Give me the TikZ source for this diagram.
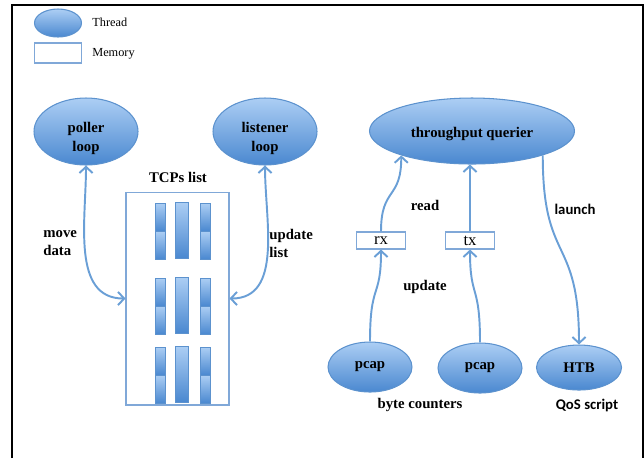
\documentclass[tikz,border=0pt]{standalone}
\usepackage{fontspec}
\setmainfont{Liberation Serif}
\newfontfamily\calibri{Carlito}
\usepackage{xcolor}
\usepackage{tikz}
\usetikzlibrary{arrows.meta,positioning,shapes}

\definecolor{threadtop}{RGB}{172,206,244}
\definecolor{threadbot}{RGB}{74,136,208}
\definecolor{threadline}{RGB}{92,146,206}
\definecolor{flowblue}{RGB}{106,159,214}
\definecolor{memline}{RGB}{128,168,216}

\newcommand\lowered[2]{\raisebox{-#1}[\height][\depth]{\begin{tabular}{@{}c@{}}#2\end{tabular}}}

\tikzset{
  barb/.tip={Straight Barb[length=3.5pt,width=7.5pt]},
  thread/.style={ellipse, draw=threadline, line width=0.6pt, top color=threadtop, bottom color=threadbot,
    inner sep=0pt, align=center, font=\bfseries\fontsize{8.4}{11.3}\selectfont},
  memory/.style={rectangle, draw=memline, line width=0.6pt, fill=white, inner sep=0pt},
  bar/.style={draw=threadline, line width=0.4pt, top color=threadtop, bottom color=threadbot},
  flow/.style={draw=flowblue, line width=1.1pt, -barb},
  lbl/.style={inner sep=0pt, align=left, font=\bfseries\fontsize{8.4}{10.2}\selectfont},
  lblsans/.style={lbl, font=\calibri\bfseries\fontsize{8.4}{10.2}\selectfont},
  keytxt/.style={inner sep=0pt, anchor=west, font=\fontsize{7}{8}\selectfont}
}

\begin{document}
\begin{tikzpicture}[x=0.02cm, y=-0.02cm]
\useasboundingbox (0,0) rectangle (644,458);
\draw[line width=0.8pt] (12,458) -- (12,5) -- (643,5) -- (643,458);

\node[thread, minimum width=0.94cm, minimum height=0.56cm] (keythread) at (58,23) {};
\node[keytxt] (keythreadtxt) at (92,22) {Thread};
\node[memory, minimum width=0.94cm, minimum height=0.4cm] (keymem) at (58,53) {};
\node[keytxt] (keymemtxt) at (92,54) {Memory};

\node[thread, minimum width=2.08cm, minimum height=1.34cm] (poller) at (86,131.5) {\lowered{3.7pt}{poller\\loop}};
\node[thread, minimum width=2.08cm, minimum height=1.34cm] (listener) at (265,131.5) {\lowered{3.7pt}{listener\\loop}};
\node[lbl] (tcpstxt) at (178,177) {TCPs list};
\node[memory, minimum width=2.06cm, minimum height=4.26cm] (tcps) at (177.5,298.5) {};
\foreach \y in {203,278,347} {
  \path[bar] (155,\y) rectangle (165,\y+28);
  \path[bar] (155,\y+28) rectangle (165,\y+56);
  \path[bar] (175,\y-1) rectangle (188,\y+55);
  \path[bar] (200,\y) rectangle (210,\y+28);
  \path[bar] (200,\y+28) rectangle (210,\y+56);
}
\draw[flow, barb-barb] (poller.south) to[out=-90, in=180] (tcps.west);
\draw[flow, barb-barb] (listener.south) to[out=-90, in=0] (tcps.east);
\node[lbl, anchor=west] (movetxt) at (43,243) {move\\data};
\node[lbl, anchor=west] (updlisttxt) at (269,243) {update\\list};

\node[thread, minimum width=4.1cm, minimum height=1.32cm] (querier) at (472,131) {\lowered{1.7pt}{throughput querier}};
\node[memory, minimum width=0.98cm, minimum height=0.34cm, font=\fontsize{9.5}{10}\selectfont] (rx) at (381,240.5) {rx};
\node[memory, minimum width=0.98cm, minimum height=0.34cm, font=\fontsize{9.5}{10}\selectfont] (tx) at (470,240.5) {tx};
\node[thread, minimum width=1.68cm, minimum height=1cm] (pcapa) at (370,367) {pcap};
\node[thread, minimum width=1.68cm, minimum height=1cm] (pcapb) at (480,368) {pcap};
\node[thread, minimum width=1.7cm, minimum height=0.9cm] (htb) at (579,367.5) {HTB};
\draw[flow] (rx.north) .. controls +(0,-45) and +(0,45) .. (querier.199);
\draw[flow] (tx.north) -- (tx.north |- querier.south);
\draw[flow] (pcapa.north) .. controls +(0,-60) and +(0,50) .. (rx.south);
\draw[flow] (pcapb.north) .. controls +(0,-60) and +(0,50) .. (tx.south);
\draw[flow] (querier.-19) .. controls +(0,110) and +(0,-110) .. (htb.north);
\node[lbl] (readtxt) at (425,205) {read};
\node[lbl] (updtxt) at (425,287) {update};
\node[lblsans] (launchtxt) at (575,209) {launch};
\node[lbl] (bytetxt) at (420,405) {byte counters};
\node[lblsans] (qostxt) at (587,405) {QoS script};
\end{tikzpicture}
\end{document}
